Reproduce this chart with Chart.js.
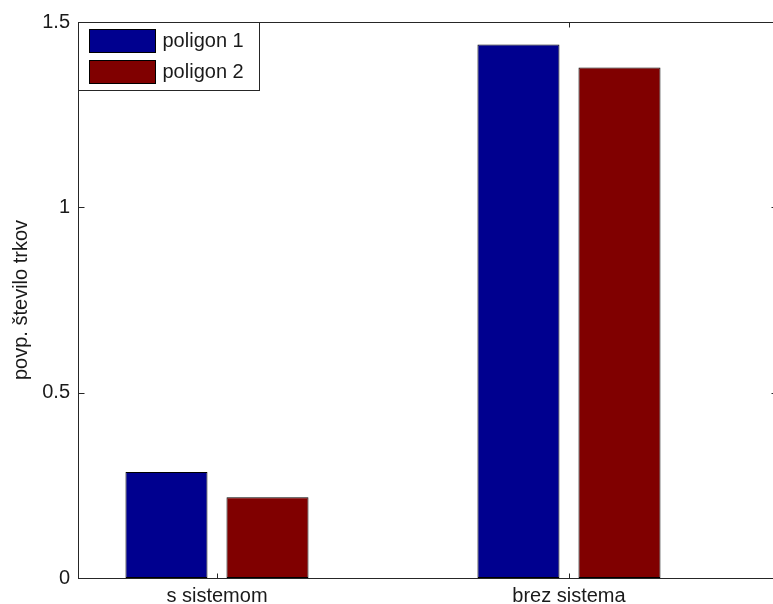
<!DOCTYPE html>
<html>
<head>
<meta charset="utf-8">
<script src="https://cdn.jsdelivr.net/npm/chart.js@4.4.0/dist/chart.umd.min.js"></script>
<style>
  html, body { margin: 0; padding: 0; background: #fff; overflow: hidden; }
  #wrap { width: 790px; height: 604px; position: relative; }
</style>
</head>
<body>
<div id="wrap"><canvas id="chart"></canvas></div>
<script>
const categories = ["s sistemom", "brez sistema"];
const poligon1 = [0.286, 1.439];
const poligon2 = [0.218, 1.377];
const yTicks = [0, 0.5, 1, 1.5];
const seriesNames = ["poligon 1", "poligon 2"];
const seriesColors = ["#00008f", "#800000"];

const font = { family: "'Liberation Sans', Arial, sans-serif", size: 20 };
const ink = "#1a1a1a";

// box around the axes + small inward ticks, like matlab
const frame = {
  id: "frame",
  afterDatasetsDraw(chart) {
    const { ctx, chartArea: a, scales } = chart;
    ctx.save();
    ctx.strokeStyle = "#262626";
    ctx.lineWidth = 1;
    const l = a.left - 0.5, r = a.right + 0.5, t = a.top + 0.5, b = a.bottom + 0.5;
    ctx.strokeRect(l, t, r - l, b - t);
    ctx.beginPath();
    scales.y.ticks.forEach((tk) => {
      const y = Math.round(scales.y.getPixelForValue(tk.value)) + 0.5;
      ctx.moveTo(l, y); ctx.lineTo(l + 6, y);
      ctx.moveTo(r, y); ctx.lineTo(r - 6, y);
    });
    scales.x.ticks.forEach((tk) => {
      const x = Math.round(scales.x.getPixelForValue(tk.value)) + 0.5;
      ctx.moveTo(x, b); ctx.lineTo(x, b - 5);
      ctx.moveTo(x, t); ctx.lineTo(x, t + 5);
    });
    ctx.stroke();
    ctx.restore();
  },
  afterDraw(chart) {
    // legend box in the top left corner
    const { ctx, chartArea: a } = chart;
    const x0 = a.left - 0.5, y0 = a.top + 0.5, w = 181, h = 68;
    ctx.save();
    ctx.fillStyle = "#fff";
    ctx.fillRect(x0, y0, w, h);
    ctx.strokeStyle = "#262626";
    ctx.strokeRect(x0, y0, w, h);
    ctx.font = font.size + "px " + font.family;
    ctx.textBaseline = "middle";
    chart.data.datasets.forEach((ds, i) => {
      const sy = y0 + 7 + i * 31;
      ctx.fillStyle = ds.backgroundColor;
      ctx.fillRect(x0 + 11, sy, 66, 23);
      ctx.strokeStyle = "#000";
      ctx.strokeRect(x0 + 11, sy, 66, 23);
      ctx.fillStyle = ink;
      ctx.fillText(ds.label, x0 + 84, sy + 12);
    });
    ctx.restore();
  }
};

new Chart(document.getElementById("chart"), {
  type: "bar",
  data: {
    datasets: [poligon1, poligon2].map((vals, i) => ({
      label: seriesNames[i],
      data: vals.map((v, j) => ({ x: j + 1, y: v })),
      backgroundColor: seriesColors[i],
      borderColor: "#000",
      borderWidth: 1,
      borderSkipped: false,
      categoryPercentage: 0.574,
      barPercentage: 0.812,
    })),
  },
  options: {
    responsive: true,
    maintainAspectRatio: false,
    animation: false,
    layout: { padding: { top: 22, right: 13, left: 0, bottom: 0 } },
    plugins: { legend: { display: false }, tooltip: { enabled: false } },
    scales: {
      x: {
        type: "linear",
        offset: false,
        min: 0.608,
        max: 2.591,
        grid: { display: false, drawTicks: false, offset: false },
        border: { display: false },
        afterBuildTicks: (s) => { s.ticks = categories.map((c, i) => ({ value: i + 1 })); },
        afterFit: (s) => { s.height = 26; },
        ticks: {
          padding: 6,
          color: ink,
          font: font,
          maxRotation: 0,
          callback: (v) => categories[v - 1],
        },
      },
      y: {
        min: 0,
        max: 1.5,
        grid: { display: false, drawTicks: false },
        border: { display: false },
        afterBuildTicks: (s) => { s.ticks = yTicks.map((v) => ({ value: v })); },
        afterFit: (s) => { s.width = 79; },
        ticks: { padding: 9, color: ink, font: font, callback: (v) => String(v) },
        title: {
          display: true,
          text: "povp. število trkov",
          color: ink,
          font: font,
          padding: { top: 9, bottom: 0 },
        },
      },
    },
  },
  plugins: [frame],
});
</script>
</body>
</html>
